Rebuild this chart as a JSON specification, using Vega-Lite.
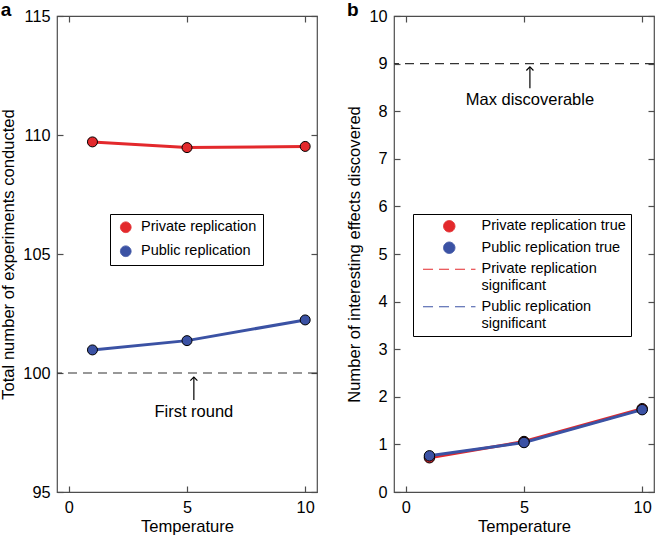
{
  "$schema": "https://vega.github.io/schema/vega-lite/v6.json",
  "padding": 0,
  "background": "white",
  "spacing": 27,
  "resolve": {"scale": {"color": "independent"}, "legend": {"color": "independent"}},
  "config": {
    "font": "Liberation Sans",
    "view": {"stroke": "#4d4d4d", "strokeWidth": 1.2},
    "axis": {"grid": false, "domain": false, "tickColor": "#4d4d4d", "tickSize": 6, "offset": -6, "tickWidth": 1.2, "labelFontSize": 16.3, "labelColor": "black", "titleFontSize": 16.6, "titleFontWeight": "normal", "titleColor": "black", "labelFont": "Liberation Sans", "titleFont": "Liberation Sans", "labelPadding": 7, "titlePadding": 6},
    "axisBottom": {"titlePadding": 3},
    "title": {"font": "Liberation Sans", "fontSize": 19, "fontWeight": "bold", "anchor": "start", "frame": "bounds", "offset": -12, "color": "black"},
    "legend": {"labelFont": "Liberation Sans", "labelColor": "black", "labelLimit": 400}
  },
  "hconcat": [
    {
      "width": 260,
      "height": 476,
      "title": {"text": "a"},
      "data": {"values": [
        {"Temperature": 1, "value": 109.71, "series": "Private replication"},
        {"Temperature": 5, "value": 109.47, "series": "Private replication"},
        {"Temperature": 10, "value": 109.52, "series": "Private replication"},
        {"Temperature": 1, "value": 100.97, "series": "Public replication"},
        {"Temperature": 5, "value": 101.36, "series": "Public replication"},
        {"Temperature": 10, "value": 102.23, "series": "Public replication"}
      ]},
      "layer": [
        {
          "data": {"values": [{"y": 100}]},
          "mark": {"type": "rule", "strokeDash": [9, 6], "color": "#333333", "strokeWidth": 1.2},
          "encoding": {"y": {"field": "y", "type": "quantitative", "axis": null}}
        },
        {
          "data": {"values": [{"x": 5.29, "y": 99.83, "y2": 98.87}]},
          "mark": {"type": "rule", "color": "black", "strokeWidth": 1.2},
          "encoding": {"x": {"field": "x", "type": "quantitative", "axis": null}, "y": {"field": "y", "type": "quantitative", "axis": null}, "y2": {"field": "y2"}}
        },
        {
          "data": {"values": [{"x": 5.29, "y": 99.83}]},
          "mark": {"type": "point", "shape": "M-1,1L0,0L1,1", "filled": false, "color": "black", "strokeWidth": 1.2, "size": 50, "opacity": 1},
          "encoding": {"x": {"field": "x", "type": "quantitative", "axis": null}, "y": {"field": "y", "type": "quantitative", "axis": null}}
        },
        {
          "data": {"values": [{"x": 5.29, "y": 98.37, "label": "First round"}]},
          "mark": {"type": "text", "fontSize": 16.5, "color": "black"},
          "encoding": {"x": {"field": "x", "type": "quantitative", "axis": null}, "y": {"field": "y", "type": "quantitative", "axis": null}, "text": {"field": "label"}}
        },
        {
          "mark": {"type": "line", "strokeWidth": 3},
          "encoding": {
            "x": {"field": "Temperature", "type": "quantitative", "scale": {"domain": [-0.5, 10.5], "nice": false, "zero": false}, "axis": {"values": [0, 5, 10], "title": "Temperature", "orient": "bottom"}},
            "y": {"field": "value", "type": "quantitative", "scale": {"domain": [95, 115], "nice": false, "zero": false}, "axis": {"values": [95, 100, 105, 110, 115], "title": "Total number of experiments conducted", "orient": "left"}},
            "color": {"field": "series", "type": "nominal", "scale": {"domain": ["Private replication", "Public replication"], "range": ["#e3292c", "#3b52a4"]}, "legend": {
              "orient": "none", "legendX": 53, "legendY": 198, "title": null,
              "strokeColor": "black", "fillColor": "white", "padding": 6,
              "symbolType": "circle", "symbolSize": 113, "symbolOffset": 2.5, "labelOffset": 8,
              "labelFontSize": 14.5, "rowPadding": 8,
              "encode": {"symbols": {"update": {
                "shape": {"value": "circle"},
                "fill": [{"test": "datum.value == 'Private replication'", "value": "#e4282d"}, {"value": "#3b52a4"}],
                "stroke": {"value": "black"},
                "strokeWidth": {"value": 1},
                "strokeDash": {"value": [1, 0]},
                "opacity": {"value": 1}
              }}}
            }}
          }
        },
        {
          "mark": {"type": "point", "filled": true, "size": 100, "stroke": "black", "strokeWidth": 1, "opacity": 1},
          "encoding": {
            "x": {"field": "Temperature", "type": "quantitative", "axis": {"values": [0, 5, 10], "title": null, "orient": "top", "labels": false}},
            "y": {"field": "value", "type": "quantitative", "axis": {"values": [95, 100, 105, 110, 115], "title": null, "orient": "right", "labels": false}},
            "color": {"field": "series", "type": "nominal", "legend": null}
          }
        }
      ],
      "resolve": {"axis": {"x": "independent", "y": "independent"}}
    },
    {
      "width": 260,
      "height": 476,
      "title": {"text": "b"},
      "data": {"values": [
        {"Temperature": 1, "value": 0.72, "series": "Private replication true"},
        {"Temperature": 5, "value": 1.06, "series": "Private replication true"},
        {"Temperature": 10, "value": 1.75, "series": "Private replication true"},
        {"Temperature": 1, "value": 0.76, "series": "Public replication true"},
        {"Temperature": 5, "value": 1.04, "series": "Public replication true"},
        {"Temperature": 10, "value": 1.73, "series": "Public replication true"},
        {"Temperature": 1, "value": 0.72, "series": "Private replication significant"},
        {"Temperature": 5, "value": 1.06, "series": "Private replication significant"},
        {"Temperature": 10, "value": 1.75, "series": "Private replication significant"},
        {"Temperature": 1, "value": 0.76, "series": "Public replication significant"},
        {"Temperature": 5, "value": 1.04, "series": "Public replication significant"},
        {"Temperature": 10, "value": 1.73, "series": "Public replication significant"}
      ]},
      "layer": [
        {
          "data": {"values": [{"y": 9}]},
          "mark": {"type": "rule", "strokeDash": [9, 6], "color": "#333333", "strokeWidth": 1.2},
          "encoding": {"y": {"field": "y", "type": "quantitative", "axis": null}}
        },
        {
          "data": {"values": [{"x": 5.25, "y": 8.93, "y2": 8.48}]},
          "mark": {"type": "rule", "color": "black", "strokeWidth": 1.2},
          "encoding": {"x": {"field": "x", "type": "quantitative", "axis": null}, "y": {"field": "y", "type": "quantitative", "axis": null}, "y2": {"field": "y2"}}
        },
        {
          "data": {"values": [{"x": 5.25, "y": 8.93}]},
          "mark": {"type": "point", "shape": "M-1,1L0,0L1,1", "filled": false, "color": "black", "strokeWidth": 1.2, "size": 50, "opacity": 1},
          "encoding": {"x": {"field": "x", "type": "quantitative", "axis": null}, "y": {"field": "y", "type": "quantitative", "axis": null}}
        },
        {
          "data": {"values": [{"x": 5.25, "y": 8.23, "label": "Max discoverable"}]},
          "mark": {"type": "text", "fontSize": 16.5, "color": "black"},
          "encoding": {"x": {"field": "x", "type": "quantitative", "axis": null}, "y": {"field": "y", "type": "quantitative", "axis": null}, "text": {"field": "label"}}
        },
        {
          "transform": [{"filter": "indexof(datum.series, 'significant') >= 0"}],
          "mark": {"type": "line", "strokeWidth": 1.5, "strokeDash": [10, 6]},
          "encoding": {
            "x": {"field": "Temperature", "type": "quantitative", "scale": {"domain": [-0.5, 10.5], "nice": false, "zero": false}, "axis": {"values": [0, 5, 10], "title": "Temperature", "orient": "bottom"}},
            "y": {"field": "value", "type": "quantitative", "scale": {"domain": [0, 10], "nice": false}, "axis": {"values": [0, 1, 2, 3, 4, 5, 6, 7, 8, 9, 10], "title": "Number of interesting effects discovered", "orient": "left"}},
            "color": {"field": "series", "type": "nominal", "scale": {"domain": ["Private replication true", "Public replication true", "Private replication significant", "Public replication significant"], "range": ["#e3292c", "#3b52a4", "#e3292c", "#3b52a4"]}, "legend": {
              "orient": "none", "legendX": 19, "legendY": 198, "title": null,
              "strokeColor": "black", "fillColor": "white", "padding": 5,
              "symbolSize": 130, "symbolOffset": 24, "labelOffset": 25,
              "labelFontSize": 14.5, "rowPadding": 5.5,
              "labelExpr": "datum.label == 'Private replication significant' ? ['Private replication', 'significant'] : datum.label == 'Public replication significant' ? ['Public replication', 'significant'] : datum.label",
              "encode": {
                "labels": {"update": {"lineHeight": {"value": 17}}},
                "symbols": {"update": {
                  "shape": [{"test": "indexof(datum.value, 'significant') >= 0", "value": "M-4.6,0H4.6"}, {"value": "circle"}],
                  "fill": [{"test": "datum.value == 'Private replication true'", "value": "#e4282d"}, {"test": "datum.value == 'Public replication true'", "value": "#3b52a4"}, {"value": "transparent"}],
                  "stroke": [{"test": "datum.value == 'Private replication significant'", "value": "#e8433f"}, {"test": "datum.value == 'Public replication significant'", "value": "#4a5db0"}, {"value": "black"}],
                  "strokeDash": [{"test": "indexof(datum.value, 'significant') >= 0", "value": [10, 6]}, {"value": [1, 0]}],
                  "strokeWidth": {"value": 1},
                  "opacity": {"value": 1}
                }}
              }
            }}
          }
        },
        {
          "transform": [{"filter": "indexof(datum.series, 'true') >= 0"}],
          "mark": {"type": "line", "strokeWidth": 3},
          "encoding": {
            "x": {"field": "Temperature", "type": "quantitative", "axis": null},
            "y": {"field": "value", "type": "quantitative", "axis": null},
            "color": {"field": "series", "type": "nominal", "legend": null}
          }
        },
        {
          "transform": [{"filter": "indexof(datum.series, 'true') >= 0"}],
          "mark": {"type": "point", "filled": true, "size": 110, "stroke": "black", "strokeWidth": 1, "opacity": 1},
          "encoding": {
            "x": {"field": "Temperature", "type": "quantitative", "axis": {"values": [0, 5, 10], "title": null, "orient": "top", "labels": false}},
            "y": {"field": "value", "type": "quantitative", "axis": {"values": [0, 1, 2, 3, 4, 5, 6, 7, 8, 9, 10], "title": null, "orient": "right", "labels": false}},
            "color": {"field": "series", "type": "nominal", "legend": null}
          }
        }
      ],
      "resolve": {"axis": {"x": "independent", "y": "independent"}}
    }
  ]
}
